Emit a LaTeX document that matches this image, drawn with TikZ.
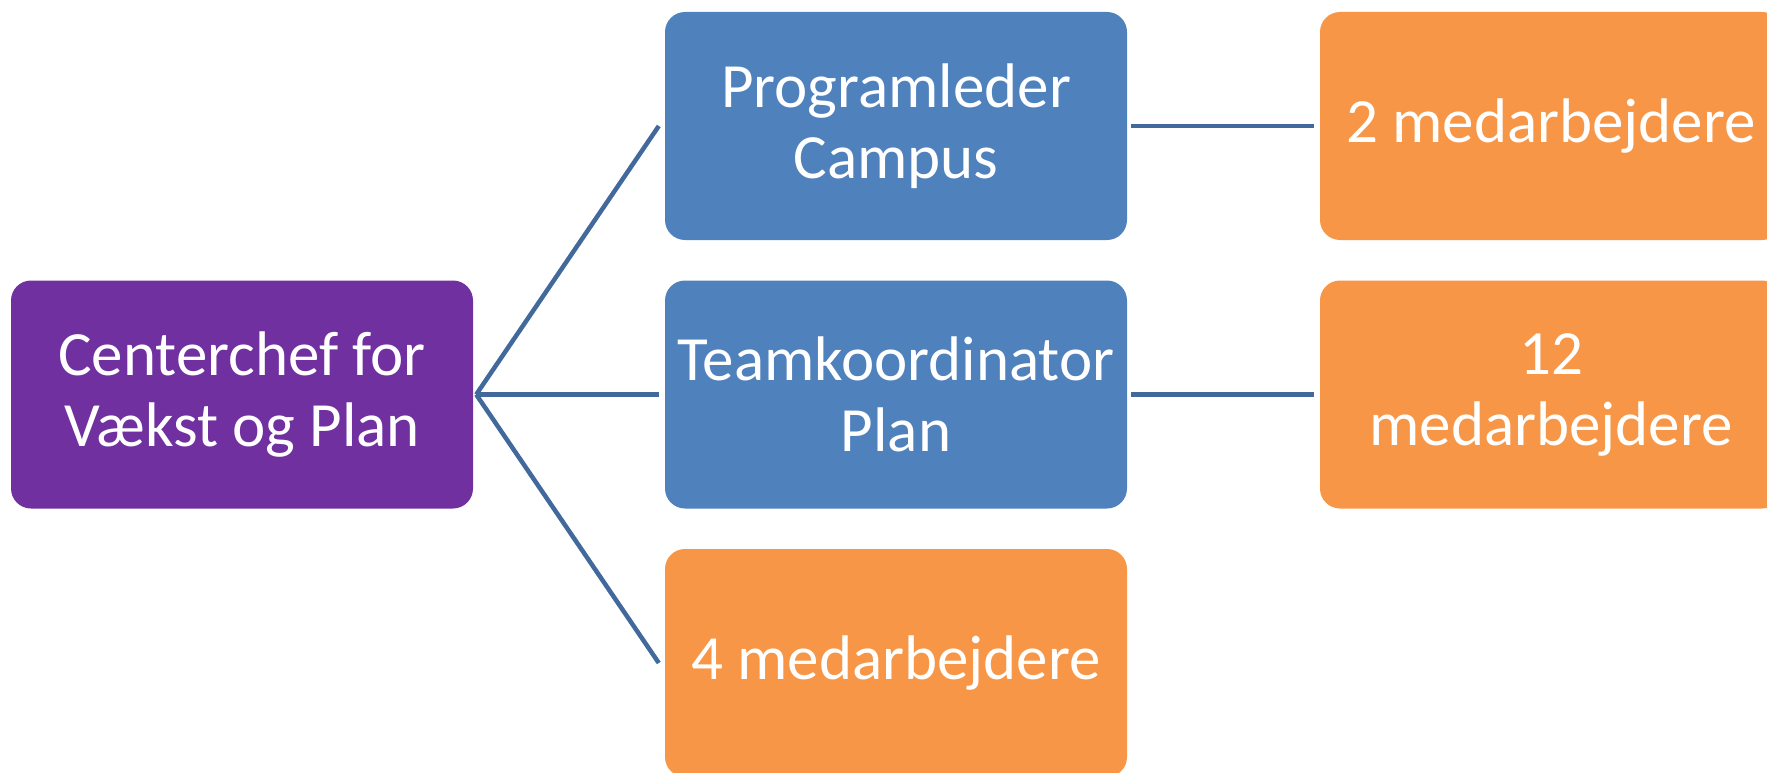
\documentclass[tikz,border=0pt]{standalone}
\usepackage{fontspec}
\setmainfont{Carlito}
\usetikzlibrary{calc}
\definecolor{cpurple}{HTML}{7030A0}
\definecolor{cblue}{HTML}{4F81BD}
\definecolor{corange}{HTML}{F79646}
\definecolor{cline}{HTML}{41699C}
\tikzset{
  box/.style={rectangle, rounded corners=20pt, minimum width=462pt, minimum height=228pt,
    inner sep=0pt, align=center, text=white, font=\fontsize{63}{71}\selectfont},
  purplebox/.style={box, fill=cpurple},
  bluebox/.style={box, fill=cblue},
  orangebox/.style={box, fill=corange},
  conn/.style={draw=cline, line width=4.5pt}
}
\begin{document}
\begin{tikzpicture}[x=1pt,y=-1pt]
\useasboundingbox (0,0) rectangle (1767,773);
\clip (0,0) rectangle (1767,773);
\node[purplebox] (p) at (242,394.5) {Centerchef for\\Vækst og Plan};
\node[bluebox] (b1) at (896,126) {Programleder\\Campus};
\node[bluebox] (b2) at (896,394.5) {Teamkoordinator\\Plan};
\node[orangebox] (o3) at (896,663) {4 medarbejdere};
\node[orangebox] (r1) at (1551,126) {2 medarbejdere};
\node[orangebox] (r2) at (1551,394.5) {12\\medarbejdere};
\coordinate (hub) at ($(p.east)+(3,0)$);
\draw[conn] (hub) -- ($(b1.west)+(-6,0)$);
\draw[conn] (hub) -- ($(b2.west)+(-6,0)$);
\draw[conn] (hub) -- ($(o3.west)+(-6,0)$);
\draw[conn] ($(b1.east)+(4,0)$) -- ($(r1.west)+(-6,0)$);
\draw[conn] ($(b2.east)+(4,0)$) -- ($(r2.west)+(-6,0)$);
\end{tikzpicture}
\end{document}
